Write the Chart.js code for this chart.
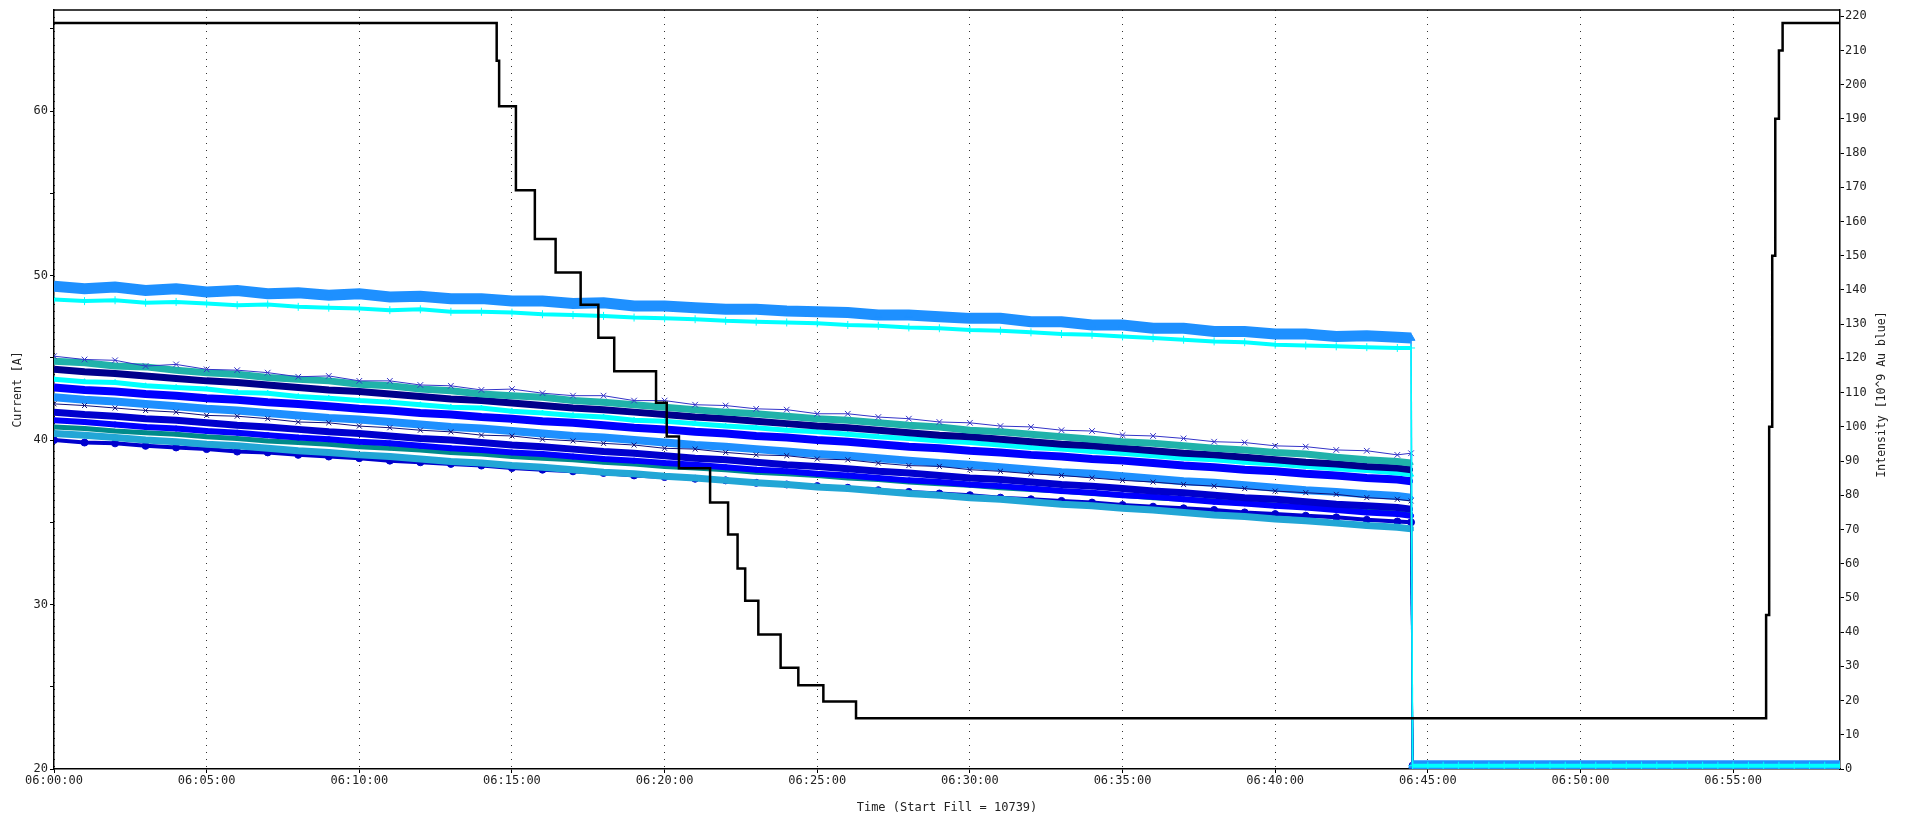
<!DOCTYPE html>
<html>
<head>
<meta charset="utf-8">
<script src="https://cdn.jsdelivr.net/npm/chart.js@4/dist/chart.umd.min.js"></script>
<style>
  html, body { margin: 0; padding: 0; background: #fff; }
  #wrap { width: 1911px; height: 822px; position: relative; }
</style>
</head>
<body>
<div id="wrap"><canvas id="grafico"></canvas></div>
<script>
// minutes after 06:00:00
const minutes = [0,1,2,3,4,5,6,7,8,9,10,11,12,13,14,15,16,17,18,19,20,21,22,23,24,25,26,27,28,29,30,31,32,33,34,35,36,37,38,39,40,41,42,43,44,44.45];
const zeroMinutes = [44.5,45,45.5,46,46.5,47,47.5,48,48.5,49,49.5,50,50.5,51,51.5,52,52.5,53,53.5,54,54.5,55,55.5,56,56.5,57,57.5,58,58.5];
const zeroLevel = [20.2,20.2,20.2,20.2,20.2,20.2,20.2,20.2,20.2,20.2,20.2,20.2,20.2,20.2,20.2,20.2,20.2,20.2,20.2,20.2,20.2,20.2,20.2,20.2,20.2,20.2,20.2,20.2,20.2];

// currents [A]
const upperDodger = [49.35,49.2,49.3,49.1,49.2,49.0,49.1,48.9,48.95,48.8,48.9,48.7,48.75,48.6,48.6,48.45,48.45,48.3,48.35,48.15,48.15,48.05,47.95,47.95,47.85,47.8,47.75,47.6,47.6,47.5,47.4,47.4,47.2,47.2,47.0,47.0,46.8,46.8,46.6,46.6,46.45,46.45,46.3,46.35,46.25,46.2];
const upperCyan = [48.55,48.45,48.5,48.35,48.4,48.3,48.2,48.25,48.1,48.05,48.0,47.9,47.95,47.8,47.8,47.75,47.65,47.6,47.55,47.45,47.4,47.35,47.25,47.2,47.15,47.1,47.0,46.95,46.85,46.8,46.7,46.65,46.55,46.45,46.4,46.3,46.2,46.1,46.0,45.95,45.8,45.75,45.7,45.65,45.6,45.6];
const s1 = [45.1,44.9,44.85,44.5,44.6,44.3,44.25,44.1,43.85,43.9,43.6,43.6,43.35,43.3,43.05,43.1,42.85,42.7,42.7,42.4,42.4,42.15,42.1,41.9,41.85,41.6,41.6,41.4,41.3,41.1,41.05,40.85,40.8,40.6,40.55,40.3,40.25,40.1,39.9,39.85,39.65,39.6,39.4,39.35,39.1,39.2];
const s2 = [44.8,44.7,44.5,44.45,44.25,44.1,44.0,43.8,43.7,43.6,43.4,43.3,43.1,43.0,42.8,42.7,42.6,42.4,42.3,42.15,42.0,41.85,41.7,41.6,41.45,41.3,41.2,41.05,40.9,40.8,40.6,40.5,40.35,40.2,40.05,39.9,39.8,39.65,39.5,39.4,39.25,39.15,38.95,38.8,38.7,38.6];
const s3 = [44.3,44.15,44.05,43.9,43.75,43.6,43.5,43.35,43.2,43.05,42.95,42.8,42.65,42.5,42.4,42.25,42.1,41.95,41.85,41.7,41.55,41.4,41.3,41.15,41.0,40.85,40.75,40.6,40.45,40.3,40.2,40.05,39.9,39.75,39.65,39.5,39.35,39.2,39.1,38.95,38.8,38.65,38.55,38.4,38.3,38.2];
const s4 = [43.7,43.55,43.5,43.3,43.2,43.1,42.9,42.85,42.65,42.55,42.4,42.3,42.15,42.0,41.95,41.75,41.65,41.5,41.4,41.2,41.15,41.0,40.85,40.75,40.6,40.5,40.35,40.2,40.1,39.95,39.85,39.7,39.55,39.45,39.3,39.2,39.05,38.9,38.8,38.65,38.55,38.4,38.25,38.15,38.0,37.9];
const s5 = [43.2,43.05,42.95,42.8,42.7,42.55,42.45,42.3,42.2,42.05,41.9,41.8,41.65,41.55,41.4,41.3,41.15,41.05,40.9,40.75,40.65,40.5,40.4,40.25,40.15,40.0,39.9,39.75,39.6,39.5,39.35,39.25,39.1,39.0,38.85,38.75,38.6,38.45,38.35,38.2,38.1,37.95,37.85,37.7,37.6,37.5];
const s6 = [42.6,42.45,42.35,42.2,42.05,41.9,41.8,41.65,41.5,41.35,41.25,41.1,40.95,40.8,40.7,40.55,40.4,40.25,40.15,40.0,39.85,39.7,39.6,39.45,39.3,39.15,39.05,38.9,38.75,38.6,38.5,38.35,38.2,38.05,37.95,37.8,37.65,37.5,37.4,37.25,37.1,36.95,36.85,36.7,36.6,36.5];
const s7 = [42.2,42.1,41.95,41.8,41.7,41.5,41.45,41.3,41.1,41.05,40.85,40.75,40.6,40.5,40.3,40.25,40.05,39.95,39.8,39.7,39.5,39.45,39.25,39.1,39.05,38.85,38.8,38.6,38.45,38.4,38.2,38.1,37.95,37.85,37.7,37.55,37.45,37.3,37.2,37.05,36.9,36.8,36.7,36.5,36.4,36.3];
const s8 = [41.7,41.55,41.45,41.3,41.2,41.05,40.9,40.8,40.65,40.5,40.4,40.25,40.1,40.0,39.85,39.7,39.6,39.45,39.3,39.2,39.05,38.9,38.8,38.65,38.5,38.4,38.25,38.1,38.0,37.85,37.7,37.6,37.45,37.3,37.2,37.05,36.9,36.8,36.65,36.5,36.4,36.25,36.1,36.0,35.9,35.8];
const s9 = [41.2,41.1,40.95,40.8,40.7,40.55,40.45,40.3,40.15,40.05,39.9,39.8,39.65,39.5,39.4,39.25,39.15,39.0,38.85,38.75,38.6,38.5,38.35,38.2,38.1,37.95,37.85,37.7,37.55,37.45,37.3,37.2,37.05,36.9,36.8,36.65,36.55,36.4,36.25,36.15,36.0,35.9,35.75,35.6,35.5,35.4];
const s10 = [40.8,40.7,40.55,40.45,40.35,40.2,40.1,39.95,39.85,39.75,39.6,39.5,39.4,39.25,39.15,39.0,38.9,38.8,38.65,38.55,38.4,38.3,38.2,38.05,37.95,37.85,37.7,37.6,37.45,37.35,37.25,37.1,37.0,36.9,36.75,36.65,36.5,36.4,36.3,36.15,36.05,35.9,35.8,35.7,35.55,35.5];
const s11 = [40.4,40.3,40.15,40.0,39.9,39.75,39.65,39.5,39.35,39.25,39.1,39.0,38.85,38.7,38.6,38.45,38.35,38.2,38.05,37.95,37.8,37.7,37.55,37.4,37.3,37.15,37.05,36.9,36.75,36.65,36.5,36.4,36.25,36.1,36.0,35.85,35.75,35.6,35.45,35.35,35.2,35.1,34.95,34.8,34.7,34.6];
const s12 = [40.0,39.85,39.8,39.65,39.55,39.45,39.3,39.25,39.1,39.0,38.9,38.75,38.65,38.55,38.45,38.3,38.2,38.1,38.0,37.85,37.75,37.65,37.55,37.4,37.3,37.2,37.1,36.95,36.85,36.75,36.65,36.5,36.4,36.3,36.2,36.05,35.95,35.85,35.75,35.6,35.5,35.4,35.3,35.15,35.05,35.0];

// beam intensity [10^9], each value holds from its minute on
const intensityMinutes = [0,14.50,14.58,15.13,15.75,16.43,17.25,17.83,18.35,19.72,20.07,20.47,21.49,22.08,22.39,22.64,23.07,23.80,24.38,25.20,26.27,56.08,56.18,56.28,56.38,56.5,56.62,58.5];
const intensityValues = [218,207,193.7,169.1,154.9,145.1,135.7,126.0,116.2,107.0,97.2,87.9,77.9,68.5,58.6,49.2,39.3,29.6,24.5,19.7,14.8,45,100,150,190,210,218,218];

const xTitle = 'Time (Start Fill = 10739)';
const yTitle = 'Current [A]';
const y2Title = 'Intensity [10^9 Au blue]';

const fonte = 'DejaVu Sans Mono';

function serieCorrente(nome, vals, cor, estilo, largura, raio) {
  const pts = minutes.map((m, i) => ({ x: m, y: vals[i] }))
    .concat(zeroMinutes.map((m, i) => ({ x: m, y: zeroLevel[i] })));
  return {
    label: nome,
    data: pts,
    yAxisID: 'y',
    borderColor: cor,
    backgroundColor: cor,
    borderWidth: largura,
    pointStyle: estilo,
    pointRadius: raio,
    pointBorderWidth: 1,
    pointBorderColor: cor,
    pointBackgroundColor: cor,
    tension: 0,
    // the drop to zero is a thin line
    segment: { borderWidth: c => (c.p0.parsed.y - c.p1.parsed.y > 5 ? 1.5 : undefined) }
  };
}

const datasets = [
  {
    label: 'Intensity',
    // level i lasts until minute i+1
    data: intensityMinutes.map((m, i) => ({ x: m, y: intensityValues[i] })),
    yAxisID: 'y2',
    borderColor: '#000',
    borderWidth: 2.5,
    pointRadius: 0,
    stepped: 'before'
  },
  serieCorrente('c2', upperCyan, '#00ffff', 'cross', 4, 4),
  serieCorrente('c1', upperDodger, '#1e90ff', 'triangle', 11, 4.5),
  serieCorrente('s1', s1, '#3434c8', 'crossRot', 1, 4),
  serieCorrente('s2', s2, '#20b2aa', 'triangle', 7, 2.5),
  serieCorrente('s3', s3, '#00008b', 'rect', 7, 2),
  serieCorrente('s4', s4, '#00ffff', 'triangle', 5, 3),
  serieCorrente('s5', s5, '#0000ff', 'rect', 8, 2),
  serieCorrente('s7', s7, '#10107a', 'crossRot', 1, 3.5),
  serieCorrente('s6', s6, '#1e90ff', 'rectRot', 8, 2.5),
  serieCorrente('s8', s8, '#0000cd', 'rect', 7, 2),
  serieCorrente('s9', s9, '#0000ff', 'circle', 6, 2.5),
  serieCorrente('s10', s10, '#008b8b', 'rect', 5, 2),
  serieCorrente('s11', s11, '#22a6d6', 'rect', 7, 3),
  serieCorrente('s12', s12, '#0000cd', 'circle', 4, 3.5)
];

const moldura = {
  id: 'moldura',
  afterDraw(chart) {
    const { ctx, chartArea } = chart;
    ctx.save();
    ctx.strokeStyle = '#000';
    ctx.lineWidth = 1.5;
    ctx.beginPath();
    ctx.moveTo(chartArea.left, chartArea.top);
    ctx.lineTo(chartArea.right, chartArea.top);
    ctx.stroke();
    // right axis title reads bottom to top
    ctx.translate(1882, (chartArea.top + chartArea.bottom) / 2 + 5);
    ctx.rotate(-Math.PI / 2);
    ctx.fillStyle = '#222';
    ctx.font = '11.5px "' + fonte + '"';
    ctx.textAlign = 'center';
    ctx.textBaseline = 'middle';
    ctx.fillText(y2Title, 0, 0);
    ctx.restore();
  }
};

const pad2 = v => String(v).padStart(2, '0');

new Chart(document.getElementById('grafico'), {
  type: 'line',
  data: { datasets },
  plugins: [moldura],
  options: {
    responsive: true,
    maintainAspectRatio: false,
    animation: false,
    layout: { padding: { top: 10, left: 0, right: 0, bottom: 0 } },
    plugins: { legend: { display: false }, tooltip: { enabled: false } },
    scales: {
      x: {
        type: 'linear',
        min: 0,
        max: 58.5,
        afterFit: s => { s.height = 53; },
        ticks: {
          stepSize: 5,
          includeBounds: false,
          maxRotation: 0,
          autoSkip: false,
          padding: 1,
          color: '#222',
          font: { family: fonte, size: 12 },
          callback: v => '06:' + pad2(v) + ':00'
        },
        grid: { color: '#333', lineWidth: 1, tickLength: 4, tickColor: '#000', tickBorderDash: [] },
        border: { display: true, color: '#000', width: 1.5, dash: [1, 6] },
        title: { display: true, text: xTitle, color: '#222', font: { family: fonte, size: 12 }, padding: { top: 0, bottom: 7 } }
      },
      y: {
        position: 'left',
        min: 20,
        max: 66.15,
        afterFit: s => { s.width = 54; },
        ticks: {
          stepSize: 5,
          includeBounds: false,
          padding: 2,
          color: '#222',
          font: { family: fonte, size: 12 },
          callback: v => (v % 10 === 0 ? v : '')
        },
        grid: { drawOnChartArea: false, tickLength: 4, tickColor: '#000' },
        border: { display: true, color: '#000', width: 1.5 },
        title: { display: true, text: yTitle, color: '#222', font: { family: fonte, size: 11.5 }, padding: { top: 11, bottom: 0 } }
      },
      y2: {
        position: 'right',
        min: 0,
        max: 221.8,
        afterFit: s => { s.width = 71; },
        ticks: {
          stepSize: 5,
          includeBounds: false,
          padding: 1,
          color: '#222',
          font: { family: fonte, size: 12 },
          callback: v => (v % 10 === 0 ? v : '')
        },
        grid: { drawOnChartArea: false, tickLength: 4, tickColor: '#000' },
        border: { display: true, color: '#000', width: 1.5 }
      }
    }
  }
});
</script>
</body>
</html>
